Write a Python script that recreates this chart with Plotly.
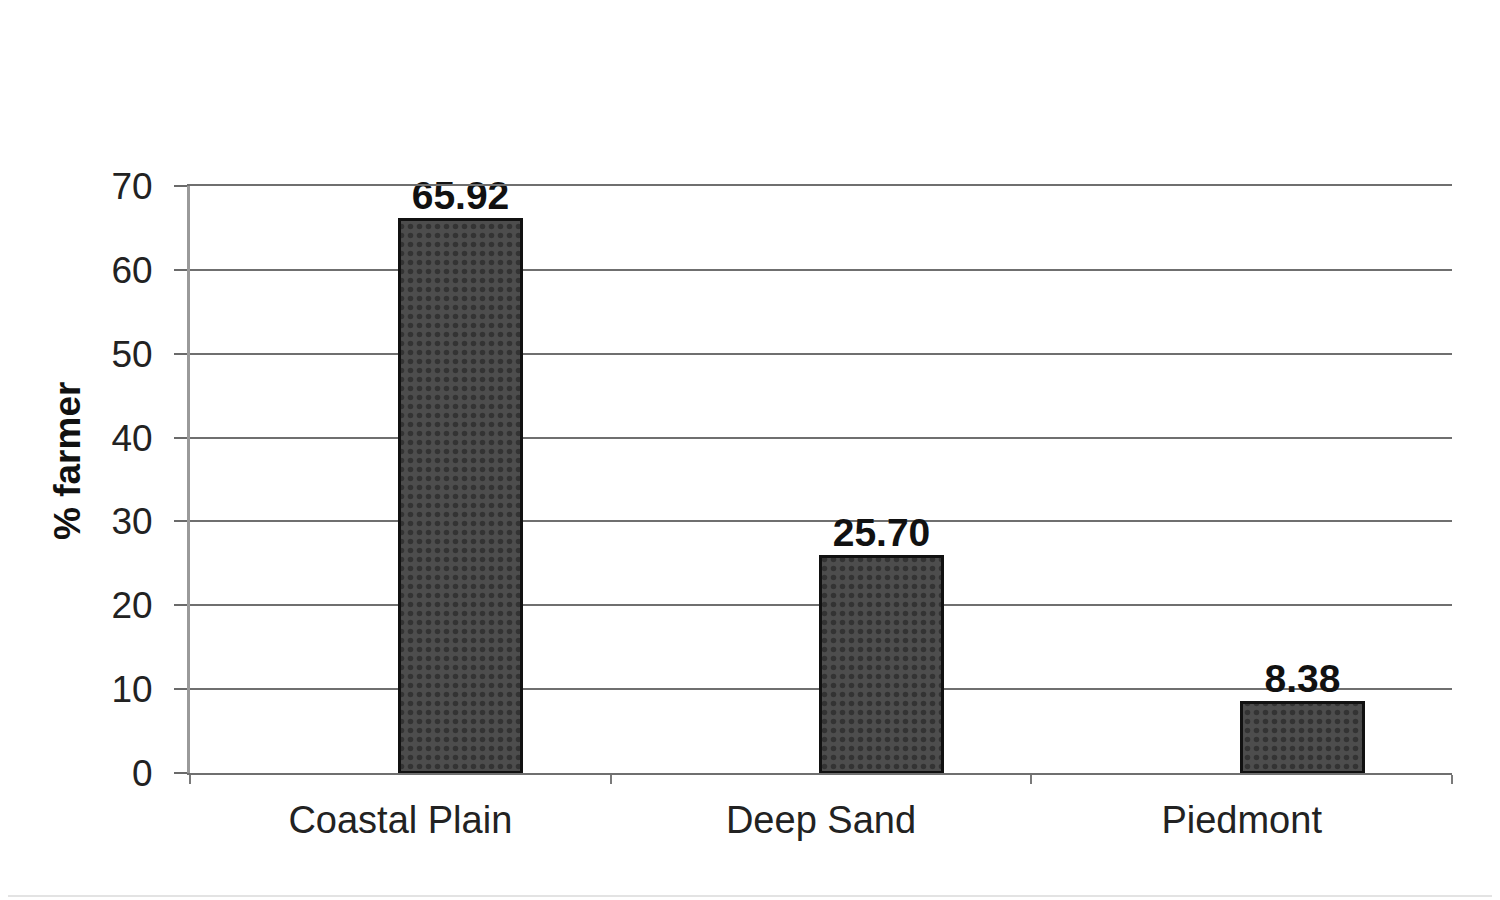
import plotly.graph_objects as go

# regions and share of farmers (%)
regions = ['Coastal Plain', 'Deep Sand', 'Piedmont']
pct_farmer = [65.92, 25.70, 8.38]
y_ticks = [0, 10, 20, 30, 40, 50, 60, 70]

W, H = 1500, 900
OFF = 8  # page body margin the browser adds
m_l, m_r, m_t, m_b = 190 - OFF, 56, 186 - OFF, 135
pw = W - m_l - m_r
ph = H - m_t - m_b


def px_x(sx):
    return (sx - OFF - m_l) / pw


def px_y(sy):
    return 1 - (sy - OFF - m_t) / ph


fig = go.Figure()
fig.add_trace(go.Bar(
    x=regions,
    y=pct_farmer,
    width=0.29,
    offset=0,
    marker=dict(
        color='#4a4a4a',
        line=dict(color='#111111', width=3),
        pattern=dict(shape='.', fgcolor='#1a1a1a', bgcolor='#4d4d4d', size=9, solidity=0.3),
    ),
    texttemplate='%{y:.2f}',
    textposition='outside',
    textfont=dict(family='Liberation Sans, Arial', size=39, color='#111111', weight='bold'),
    cliponaxis=False,
    showlegend=False,
))

fig.update_layout(
    width=W, height=H,
    margin=dict(l=m_l, r=m_r, t=m_t, b=m_b),
    paper_bgcolor='white',
    plot_bgcolor='white',
    font=dict(family='Liberation Sans, Arial', color='#222222'),
    bargap=0,
)

fig.update_xaxes(
    type='category',
    showline=True, linecolor='#6f6f6f', linewidth=2, mirror=True,
    ticks='outside', tickson='boundaries', ticklen=9, tickcolor='#7a7a7a', tickwidth=2,
    ticklabelstandoff=12,
    tickfont=dict(size=38, color='#222222'),
    showgrid=False,
)
fig.update_yaxes(
    range=[0, 70],
    tickvals=y_ticks,
    showline=True, linecolor='#9a9a9a', linewidth=3,
    ticks='outside', ticklen=13, tickcolor='#6a6a6a', tickwidth=2,
    ticklabelstandoff=14,
    tickfont=dict(size=37, color='#222222'),
    showgrid=True, gridcolor='#6f6f6f', gridwidth=2,
    zeroline=False,
)

# y axis title, set a little above the middle as in the original
fig.add_annotation(
    text='% farmer', textangle=-90, showarrow=False,
    xref='paper', yref='paper', x=px_x(67), y=px_y(461),
    xanchor='center', yanchor='middle',
    font=dict(size=37, color='#111111', weight='bold'),
)

# faint frame line along the bottom of the picture
fig.add_shape(type='line', xref='paper', yref='paper',
              x0=px_x(8), x1=px_x(1500), y0=px_y(896), y1=px_y(896),
              line=dict(color='#e3e3e3', width=2))

fig.write_html("out.html")
